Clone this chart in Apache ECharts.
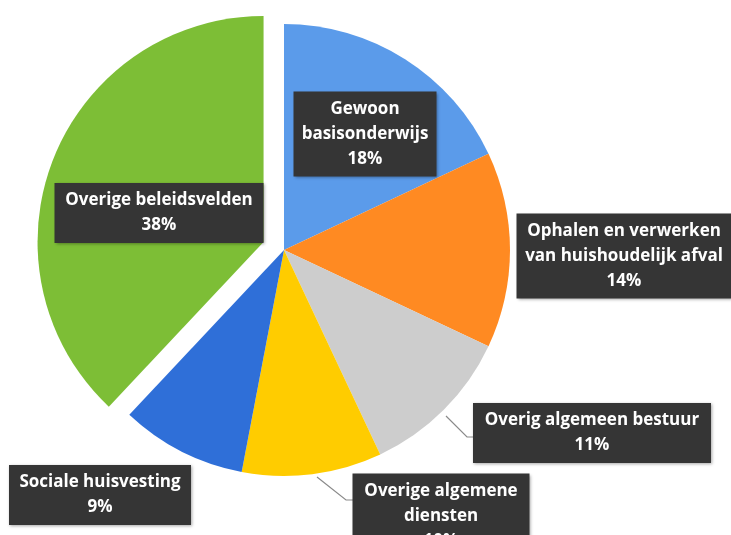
<!DOCTYPE html>
<html><head><meta charset="utf-8">
<script src="https://cdn.jsdelivr.net/npm/echarts@6/dist/echarts.min.js"></script>
<style>html,body{margin:0;padding:0;background:#fff;}#c{width:731px;height:535px;}</style>
</head><body><div id="c"></div>
<script>
const categories = ['Gewoon\nbasisonderwijs','Ophalen en verwerken\nvan huishoudelijk afval','Overig algemeen bestuur','Overige algemene\ndiensten','Sociale huisvesting','Overige beleidsvelden'];
const values = [18, 14, 11, 10, 9, 38];
const colors = ['#5B9BEA','#FF8A22','#CDCDCD','#FFCC00','#2F6FD8','#7DBE36'];
const exploded = [false, false, false, false, false, true];

// layout (not data): label box centres / content widths, leader lines, pie geometry
const labelPos = [
  {x:365, y:134, w:129},
  {x:624, y:256, w:201},
  {x:592, y:433, w:224},
  {x:441, y:516, w:163},
  {x:100, y:495, w:168},
  {x:159, y:213, w:195}
];
const leaderLines = {
  2: [[446,416],[467,437],[474,437]],
  3: [[317,477],[346,500],[353,500]]
};
const CX = 284, CY = 250, R = 226, EXPLODE = 22;

// direction of the exploded slice, from its share of the total
const total = values.reduce((a,b)=>a+b,0);
let cum = 0;
const midAngles = values.map(v=>{ const m = (cum + v/2)/total*2*Math.PI; cum += v; return m; });
const exIdx = exploded.indexOf(true);
const exCenter = [CX + EXPLODE*Math.sin(midAngles[exIdx]), CY - EXPLODE*Math.cos(midAngles[exIdx])];

const labelBase = {
  show:true,
  position:'outside',
  formatter:p=>p.name+'\n'+p.value+'%',
  color:'#ffffff',
  fontFamily:'"Open Sans", Lato, sans-serif',
  fontWeight:'bold',
  fontSize:17,
  lineHeight:25,
  align:'center',
  overflow:'none',
  backgroundColor:'#353535',
  padding:[5,7,5,7],
  shadowColor:'rgba(0,0,0,0.35)',
  shadowBlur:3,
  shadowOffsetX:1,
  shadowOffsetY:1
};
function makeData(showExploded){
  return categories.map((n,i)=>{
    const visible = exploded[i] === showExploded;
    return {
      name:n, value:values[i],
      itemStyle:{color:colors[i], opacity: visible ? 1 : 0},
      label:{show:visible, width:labelPos[i].w},
      labelLine:{show: visible && leaderLines[i] !== undefined}
    };
  });
}
function layoutFn(params){
  const i = params.dataIndex;
  const p = labelPos[i];
  const o = {x:p.x, y:p.y, align:'center', verticalAlign:'middle'};
  if (leaderLines[i]) o.labelLinePoints = leaderLines[i];
  return o;
}
const common = {
  type:'pie', radius:[0,R], startAngle:90, clockwise:true,
  silent:true, emphasis:{disabled:true}, itemStyle:{borderWidth:0},
  avoidLabelOverlap:false, label:labelBase,
  labelLine:{lineStyle:{color:'#8a8a8a', width:1.2}, length:10, length2:10},
  labelLayout:layoutFn
};
const chart = echarts.init(document.getElementById('c'), null, {renderer:'canvas'});
chart.setOption({
  animation:false,
  series:[
    Object.assign({}, common, {center:[CX,CY], data:makeData(false)}),
    Object.assign({}, common, {center:exCenter, data:makeData(true)})
  ]
});
</script></body></html>
